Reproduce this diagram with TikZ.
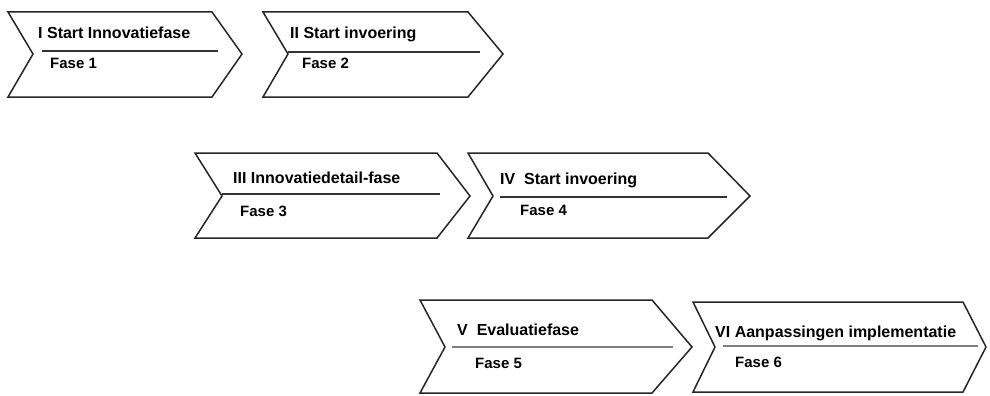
\documentclass[tikz,border=0pt]{standalone}
\usepackage{fontspec}
\setmainfont{Liberation Sans}
\begin{document}
\begin{tikzpicture}[x=1pt,y=-1pt,
  chev/.style={draw=black!85,line width=1.5pt,fill=white,line join=miter},
  sepline/.style={draw=black!80,line width=1.8pt},
  sepgray/.style={draw=black!50,line width=2.4pt},
  title/.style={anchor=base west,inner sep=0pt,font=\bfseries\fontsize{16}{16}\selectfont},
  sub/.style={anchor=base west,inner sep=0pt,font=\bfseries\fontsize{15}{16}\selectfont}]
\useasboundingbox (0,0) rectangle (990,396);
% chevron 1
\draw[chev] (8,12) -- (212,12) -- (242,54) -- (212,97) -- (8,97) -- (33,54) -- cycle;
\node[title] (t1) at (38,38) {I Start Innovatiefase};
\coordinate (l1a) at (42,51); \coordinate (l1b) at (218,51);
\draw[sepline] (l1a) -- (l1b);
\node[sub] (f1) at (50,68) {Fase 1};
% chevron 2
\draw[chev] (263,12) -- (468,12) -- (503,54) -- (468,97) -- (263,97) -- (288,54) -- cycle;
\node[title] (t2) at (290,39) {II Start invoering};
\coordinate (l2a) at (288,52); \coordinate (l2b) at (480,52);
\draw[sepline] (l2a) -- (l2b);
\node[sub] (f2) at (302,68) {Fase 2};
% chevron 3
\draw[chev] (195,153) -- (437,153) -- (470,196) -- (437,238) -- (195,238) -- (222,196) -- cycle;
\node[title] (t3) at (233,183) {III Innovatiedetail-fase};
\coordinate (l3a) at (222,194); \coordinate (l3b) at (440,194);
\draw[sepline] (l3a) -- (l3b);
\node[sub] (f3) at (240,216) {Fase 3};
% chevron 4
\draw[chev] (468,153) -- (708,153) -- (750,196) -- (708,238) -- (468,238) -- (493,196) -- cycle;
\node[title] (t4) at (500,184) {IV\ \ Start invoering};
\coordinate (l4a) at (500,197); \coordinate (l4b) at (727,197);
\draw[sepline] (l4a) -- (l4b);
\node[sub] (f4) at (520,215) {Fase 4};
% chevron 5
\draw[chev] (420,300) -- (652,300) -- (692,347) -- (652,393) -- (420,393) -- (445,347) -- cycle;
\node[title] (t5) at (457,335) {V\ \ Evaluatiefase};
\coordinate (l5a) at (452,347); \coordinate (l5b) at (673,347);
\draw[sepgray] (l5a) -- (l5b);
\node[sub] (f5) at (475,368) {Fase 5};
% chevron 6
\draw[chev] (693,302) -- (963,302) -- (986,347) -- (963,392) -- (693,392) -- (715,347) -- cycle;
\node[title] (t6) at (715,337) {VI Aanpassingen implementatie};
\coordinate (l6a) at (723,346); \coordinate (l6b) at (978,346);
\draw[sepgray] (l6a) -- (l6b);
\node[sub] (f6) at (735,367) {Fase 6};
\end{tikzpicture}
\end{document}
